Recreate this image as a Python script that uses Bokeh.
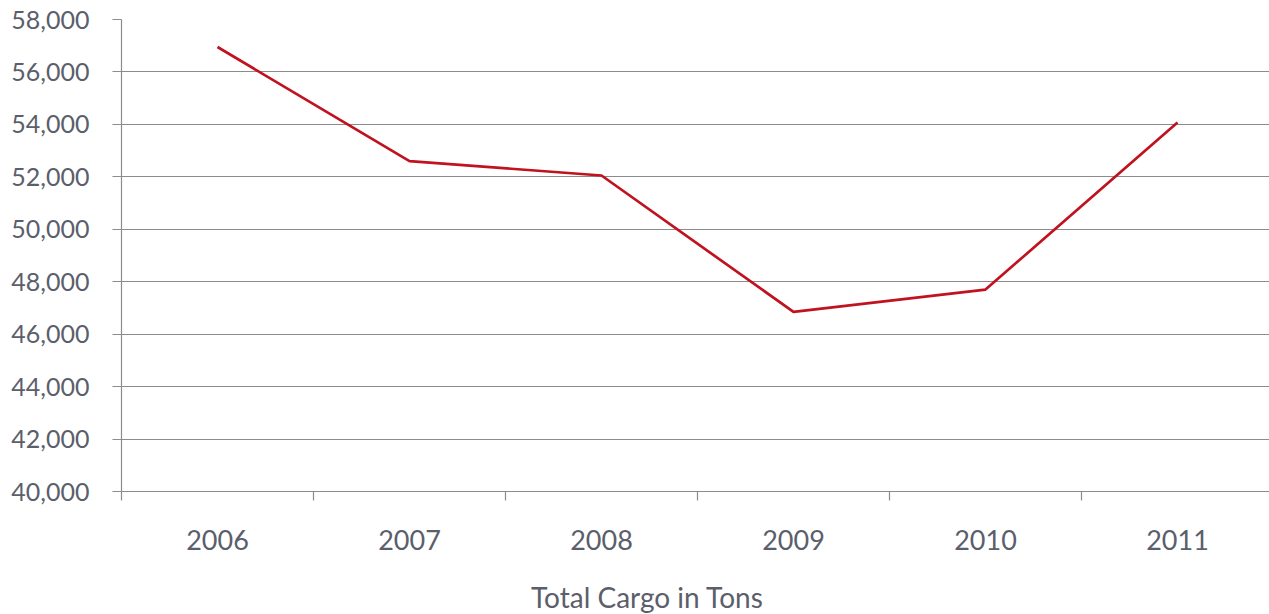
from bokeh.plotting import figure
from bokeh.layouts import column
from bokeh.models import Range1d, FixedTicker, NumeralTickFormatter, Legend, LegendItem
from bokeh.embed import file_html
from bokeh.resources import INLINE

years = ["2006", "2007", "2008", "2009", "2010", "2011"]
cargo = [56950, 52600, 52050, 46850, 47700, 54070]
y_ticks = [40000, 42000, 44000, 46000, 48000, 50000, 52000, 54000, 56000, 58000]
series_name = "Total Cargo in Tons"

FONT = "Lato"
TEXT_COLOR = "#5b5e6b"
GRID_COLOR = "#8c8c8c"
LINE_COLOR = "#c0121f"

x_pos = [i + 0.5 for i in range(len(years))]
boundaries = list(range(len(years) + 1))

p = figure(width=1269, height=570, output_backend="svg", toolbar_location=None,
           x_range=Range1d(0, 1148 / 192), y_range=Range1d(y_ticks[0], y_ticks[-1]),
           min_border_left=121, min_border_right=0, min_border_top=19,
           min_border_bottom=79)
p.outline_line_color = None
p.background_fill_color = "white"

p.line(x_pos, cargo, line_color=LINE_COLOR, line_width=2.7)

# x axis
p.xaxis.ticker = FixedTicker(ticks=x_pos, minor_ticks=boundaries)
p.xaxis.major_label_overrides = {x: y for x, y in zip(x_pos, years)}
p.xaxis.major_tick_line_color = None
p.xaxis.major_tick_out = 9
p.xaxis.major_tick_in = 0
p.xaxis.minor_tick_line_color = GRID_COLOR
p.xaxis.minor_tick_out = 9
p.xaxis.minor_tick_in = 0
p.xaxis.minor_tick_line_width = 1.2
p.xaxis.axis_line_color = GRID_COLOR
p.xaxis.axis_line_width = 1.2
p.xaxis.major_label_text_font = FONT
p.xaxis.major_label_text_font_size = "27px"
p.xaxis.major_label_text_color = TEXT_COLOR
p.xaxis.major_label_standoff = 29
p.xgrid.visible = False

# y axis
p.yaxis.ticker = FixedTicker(ticks=y_ticks)
p.yaxis.formatter = NumeralTickFormatter(format="0,0")
p.yaxis.minor_tick_line_color = None
p.yaxis.major_tick_out = 9
p.yaxis.major_tick_in = 0
p.yaxis.major_tick_line_color = GRID_COLOR
p.yaxis.major_tick_line_width = 1.2
p.yaxis.axis_line_color = GRID_COLOR
p.yaxis.axis_line_width = 1.2
p.yaxis.major_label_text_font = FONT
p.yaxis.major_label_text_font_size = "25px"
p.yaxis.major_label_text_color = TEXT_COLOR
p.yaxis.major_label_standoff = 23
p.ygrid.ticker = FixedTicker(ticks=y_ticks)
p.ygrid.grid_line_color = GRID_COLOR
p.ygrid.grid_line_width = 1.2

# legend strip below the chart (legend sits inside this strip's frame)
lp = figure(width=1269, height=44, output_backend="svg", toolbar_location=None,
            x_range=Range1d(0, 1), y_range=Range1d(0, 1),
            x_axis_location=None, y_axis_location=None,
            min_border_left=121, min_border_right=0, min_border_top=0, min_border_bottom=0)
lp.outline_line_color = None
lp.grid.visible = False
lr = lp.line([], [], line_color=LINE_COLOR, line_width=2.7)
lg = Legend(items=[LegendItem(label=series_name, renderers=[lr])], location=(366, 0))
lg.padding = 0
lg.margin = 0
lg.spacing = 0
lg.glyph_width = 40
lg.label_standoff = 4
lg.border_line_color = None
lg.background_fill_alpha = 0
lg.label_text_font = FONT
lg.label_text_font_size = "28px"
lg.label_text_color = TEXT_COLOR
lp.add_layout(lg, "center")

layout = column(p, lp, spacing=0)

open("out.html", "w").write(file_html(layout, INLINE))
